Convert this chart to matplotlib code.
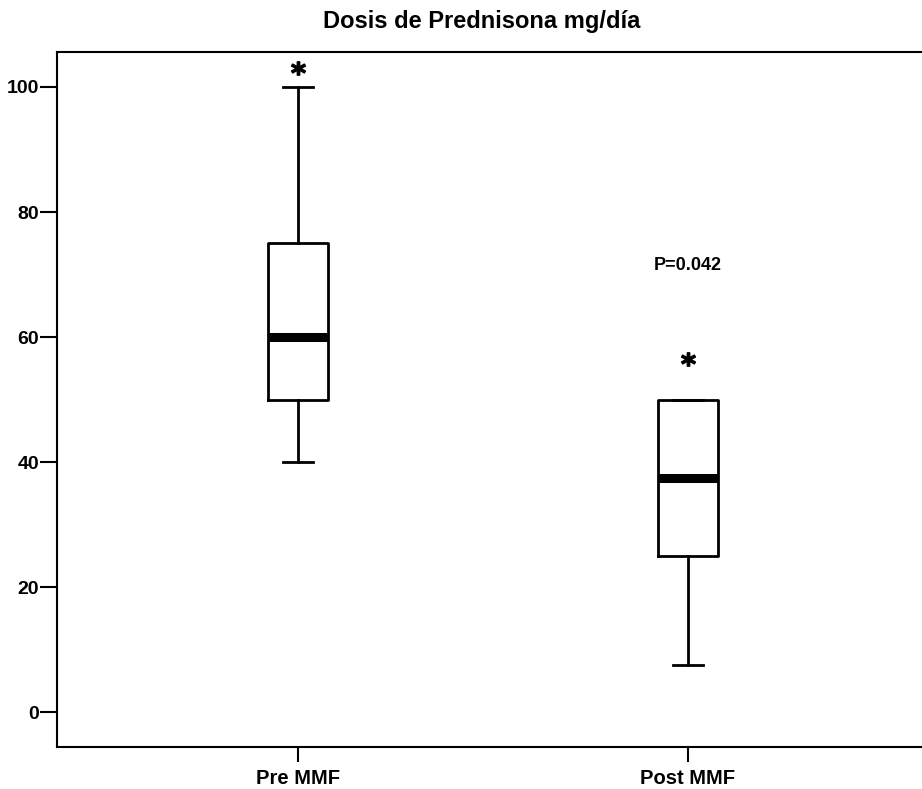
import matplotlib.pyplot as plt

plt.rcParams['font.family'] = ['Liberation Sans', 'DejaVu Sans']
plt.rcParams['font.weight'] = 'bold'

# Box plot summary values
groups = ['Pre MMF', 'Post MMF']
whisker_low = [40, 7.5]
q1 = [50, 25]
median = [60, 37.5]
q3 = [75, 50]
whisker_high = [100, 50]
outliers = [[103], [56.5]]
p_text = 'P=0.042'
p_value_y = 71.5

stats = []
for i, name in enumerate(groups):
    stats.append({
        'label': name,
        'whislo': whisker_low[i],
        'q1': q1[i],
        'med': median[i],
        'q3': q3[i],
        'whishi': whisker_high[i],
        'fliers': outliers[i],
    })

fig = plt.figure(figsize=(9.22, 7.89), dpi=100)
ax = fig.add_axes([0.0618, 0.0532, 0.9458, 0.8809])

ax.bxp(stats, positions=[1, 2], widths=0.154, capwidths=0.077,
       boxprops=dict(color='black', linewidth=2),
       whiskerprops=dict(color='black', linewidth=2),
       capprops=dict(color='black', linewidth=2),
       medianprops=dict(color='black', linewidth=6.5, solid_capstyle='butt'),
       flierprops=dict(marker='$*$', markersize=10, markerfacecolor='black',
                       markeredgecolor='black', linestyle='none'))

ax.text(2, p_value_y, p_text, ha='center', va='center', fontsize=13, fontweight='bold')

ax.set_xlim(0.382, 2.618)
ax.set_ylim(-5.6, 105.6)
ax.set_yticks([0, 20, 40, 60, 80, 100])
ax.set_xticks([1, 2])
ax.set_xticklabels(groups)
ax.tick_params(axis='y', length=12, width=1.5, pad=1, labelsize=14)
ax.tick_params(axis='x', length=11, width=1.5, pad=5, labelsize=14.5)
for lab in ax.get_xticklabels() + ax.get_yticklabels():
    lab.set_fontweight('bold')
for s in ax.spines.values():
    s.set_linewidth(1.5)
ax.spines['right'].set_visible(False)

fig.text(482 / 922, 1 - 28 / 789, 'Dosis de Prednisona mg/día', ha='center',
         va='baseline', fontsize=17, fontweight='bold')

fig.savefig('out.png', dpi=100)
